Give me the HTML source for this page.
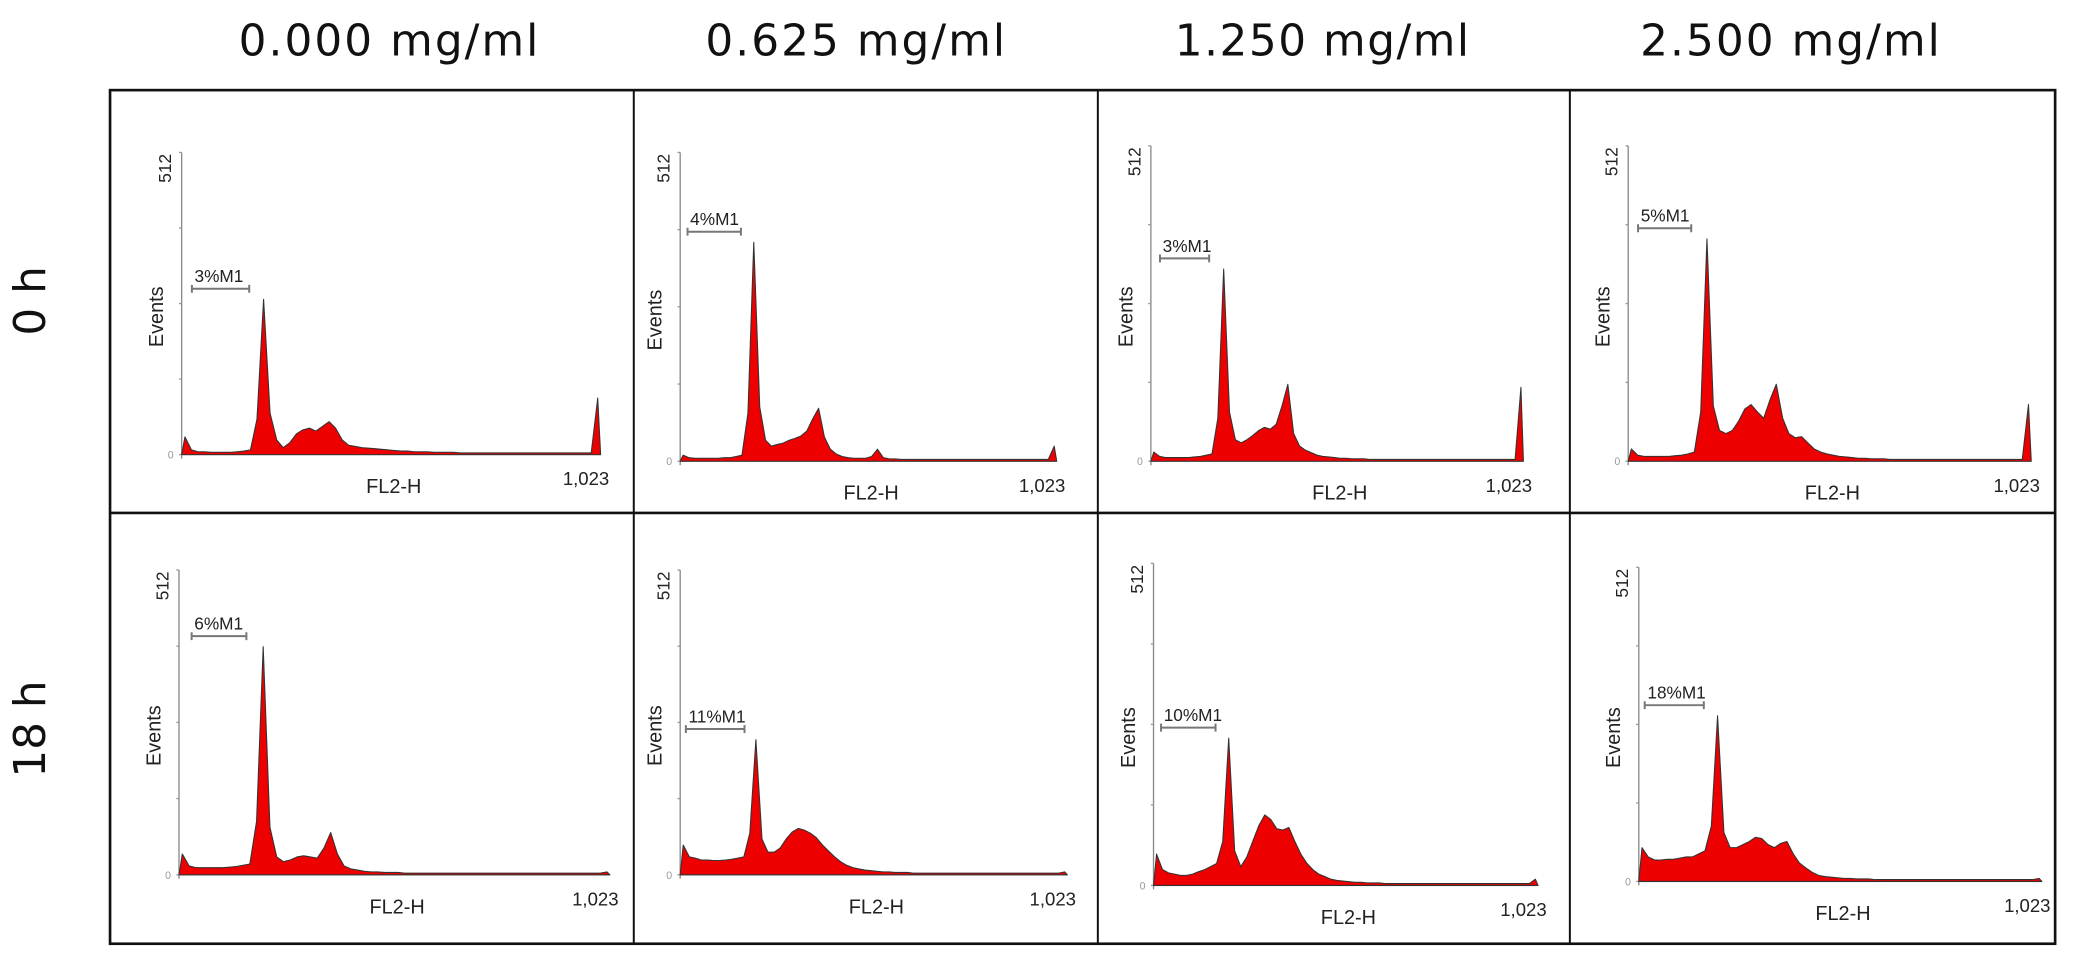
<!DOCTYPE html>
<html><head><meta charset="utf-8"><style>
html,body{margin:0;padding:0;background:#fff}
svg{display:block}
text{font-family:"Liberation Sans",sans-serif}
.t{font-family:"DejaVu Sans","Liberation Sans",sans-serif;font-size:33px;fill:#111}
</style></head><body>
<svg id="fig" width="2079" height="957" viewBox="0 0 1568 722" preserveAspectRatio="none" xmlns="http://www.w3.org/2000/svg">
<g>
<text class="t" x="293" y="42" text-anchor="middle" textLength="226">0.000 mg/ml</text>
<text class="t" x="645" y="42" text-anchor="middle" textLength="226">0.625 mg/ml</text>
<text class="t" x="997" y="42" text-anchor="middle" textLength="222">1.250 mg/ml</text>
<text class="t" x="1350" y="42" text-anchor="middle" textLength="226">2.500 mg/ml</text>
</g>
<text class="t" transform="translate(34,227) rotate(-90)" text-anchor="middle">0 h</text>
<text class="t" transform="translate(34,550) rotate(-90)" text-anchor="middle">18 h</text>
<g stroke="#111" fill="none">
<rect x="83" y="68" width="1467" height="644" stroke-width="2"/>
<line x1="83" y1="387" x2="1550" y2="387" stroke-width="2"/>
<line x1="478" y1="68" x2="478" y2="712" stroke-width="1.5"/>
<line x1="828" y1="68" x2="828" y2="712" stroke-width="1.5"/>
<line x1="1184" y1="68" x2="1184" y2="712" stroke-width="1.5"/>
</g>
<g id="panels"></g>
</svg>
<script>
const binCount = 64;
const channelMax = 1023;
const yMax = 512;
const m1Labels = ["3%M1","4%M1","3%M1","5%M1","6%M1","11%M1","10%M1","18%M1"];
const m1Start = [25,20,25,25,30,15,20,15];
const m1End = [165,165,160,160,160,170,165,165];
const h00 = [30,8,5,5,4,4,4,4, 5,6,8,60,263,70,25,12, 20,35,42,45,40,48,56,45, 25,16,14,12,11,10,9,8, 7,6,6,5,5,5,4,4, 4,4,3,3,3,3,3,3, 3,3,3,3,3,3,3,3, 3,3,3,3,3,3,3,96];
const h01 = [10,6,5,5,5,5,5,6, 6,8,10,80,363,90,35,25, 28,30,35,38,42,50,70,88, 40,20,12,8,6,5,5,5, 8,20,6,4,4,3,3,3, 3,3,3,3,3,3,3,3, 3,3,3,3,3,3,3,3, 3,3,3,3,3,3,3,25];
const h02 = [15,8,6,6,6,6,6,7, 8,10,12,70,312,80,35,30, 35,42,50,55,52,60,90,125, 45,25,18,14,10,8,7,6, 5,5,4,4,4,3,3,3, 3,3,3,3,3,3,3,3, 3,3,3,3,3,3,3,3, 3,3,3,3,3,3,3,120];
const h03 = [20,10,8,8,8,8,8,9, 10,12,15,80,361,90,50,45, 50,65,85,92,80,70,100,125, 70,45,38,40,30,20,15,12, 10,8,7,6,5,5,4,4, 4,3,3,3,3,3,3,3, 3,3,3,3,3,3,3,3, 3,3,3,3,3,3,3,92];
const h10 = [35,15,12,12,12,12,12,13, 14,16,18,90,383,80,30,22, 25,30,32,30,28,45,71,35, 15,10,8,6,5,5,4,4, 4,3,3,3,3,3,3,3, 3,3,3,3,3,3,3,3, 3,3,3,3,3,3,3,3, 3,3,3,3,3,3,3,5];
const h11 = [50,30,28,25,25,24,24,25, 26,28,30,70,227,60,38,38, 45,60,72,78,75,70,62,50, 40,30,22,16,12,10,8,7, 6,5,5,4,4,4,3,3, 3,3,3,3,3,3,3,3, 3,3,3,3,3,3,3,3, 3,3,3,3,3,3,3,5];
const h12 = [50,25,20,18,16,16,18,22, 25,30,35,70,234,55,30,45, 70,95,112,105,90,88,92,70, 50,35,25,18,14,10,8,7, 6,5,5,4,4,4,3,3, 3,3,3,3,3,3,3,3, 3,3,3,3,3,3,3,3, 3,3,3,3,3,3,3,10];
const h13 = [55,40,35,35,36,36,38,40, 40,45,50,90,270,80,55,55, 60,65,72,70,60,55,62,65, 45,30,22,15,10,8,7,6, 5,5,4,4,4,3,3,3, 3,3,3,3,3,3,3,3, 3,3,3,3,3,3,3,3, 3,3,3,3,3,3,3,5];
const hists = [h00,h01,h02,h03,h10,h11,h12,h13];
const layout = [
 [137,453,115,343],[513,797,115,348],[868,1149,110,348],[1228,1532,110,348],
 [135,460,430,660],[513,805,430,660],[870,1160,425,668],[1236,1540,428,665]
];
const NS="http://www.w3.org/2000/svg";
const root=document.getElementById('panels');
function mk(tag,attrs,parent){const e=document.createElementNS(NS,tag);for(const k in attrs)e.setAttribute(k,attrs[k]);parent.appendChild(e);return e;}
hists.forEach((h,p)=>{
  const [x0,x1,top,base]=layout[p];
  const xs=c=>x0+(c/channelMax)*(x1-x0);
  const ys=v=>base-(v/yMax)*(base-top);
  const g=mk('g',{},root);
  
  
  const ya=mk('line',{x1:x0,y1:top,x2:x0,y2:base+3,stroke:'#888','stroke-width':1},g);
  
  
  [0,128,256,384,512].forEach(t=>{
    const tk=mk('line',{x1:x0-2,y1:ys(t),x2:x0,y2:ys(t),stroke:'#999','stroke-width':1},g);
    
    
  });
  const xa=mk('line',{x1:x0,y1:base,x2:x1,y2:base,stroke:'#999','stroke-width':1},g);
  
  
  const bw=(channelMax+1)/binCount;
  let d='M'+xs(0)+','+ys(0);
  h.forEach((v,i)=>{d+=' L'+xs(i*bw+bw/2).toFixed(1)+','+ys(v).toFixed(1);});
  d+=' L'+xs(channelMax)+','+ys(0)+' Z';
  const area=mk('path',{d:d,fill:'#ee0000',stroke:'#333','stroke-width':0.8,'stroke-linejoin':'round'},g);
  
  
  const t512=mk('text',{transform:`translate(${x0-8},${top+12}) rotate(-90)`,'font-size':13,'text-anchor':'middle',fill:'#222'},g);
  t512.textContent='512';
  
  
  const ev=mk('text',{transform:`translate(${x0-14},${(top+base)/2+10}) rotate(-90)`,'font-size':15,'text-anchor':'middle',fill:'#222'},g);
  ev.textContent='Events';
  
  
  const z=mk('text',{x:x0-6,y:base+3,'font-size':8,'text-anchor':'end',fill:'#999'},g);
  z.textContent='0';
  
  
  const fl=mk('text',{x:(x0+x1)/2+2,y:base+29,'font-size':15,'text-anchor':'middle',fill:'#222'},g);
  fl.textContent='FL2-H';
  
  
  const mx=mk('text',{x:x1-11,y:base+23,'font-size':14,'text-anchor':'middle',fill:'#222'},g);
  mx.textContent='1,023';
  
  
  const peakY=ys(Math.max(...h));
  const my=peakY-8;
  const a=xs(m1Start[p]), b=xs(m1End[p]);
  const br=mk('path',{d:`M${a},${my-3} V${my+3} M${a},${my} H${b} M${b},${my-3} V${my+3}`,stroke:'#777','stroke-width':1.5,fill:'none'},g);
  
  
  const ml=mk('text',{x:a+2,y:my-5,'font-size':13,fill:'#222'},g);
  ml.textContent=m1Labels[p];
  
  
});
</script>
</body></html>
